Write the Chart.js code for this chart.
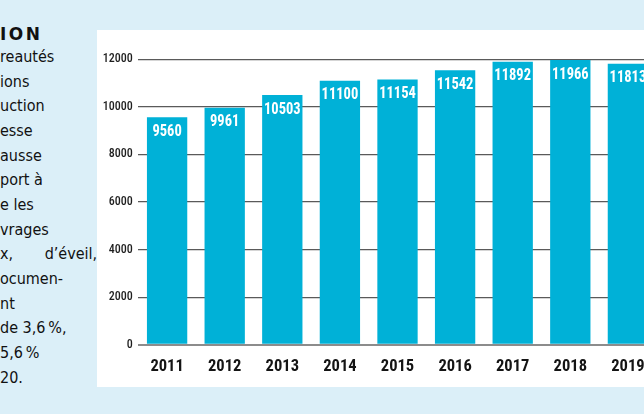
<!DOCTYPE html>
<html><head><meta charset="utf-8">
<script src="https://cdn.jsdelivr.net/npm/chart.js@4/dist/chart.umd.min.js"></script>
<style>
html,body{margin:0;padding:0}
body{width:644px;height:414px;overflow:hidden;background:#dbeff8;position:relative;color:#111}
#head{position:absolute;left:0;top:22px;font:bold 17px "DejaVu Sans",sans-serif;letter-spacing:2.5px;line-height:24px}
#txt{position:absolute;left:0;top:45px;font-family:"DejaVu Sans Condensed","DejaVu Sans",sans-serif;font-size:16px;line-height:24.65px}
#txt div{white-space:nowrap}
#panel{position:absolute;left:97px;top:30px;width:620px;height:357px;background:#fff}
#wrap{position:absolute;left:97px;top:30px;width:580px;height:357px}
</style></head>
<body>
<div id="head">ION</div>
<div id="txt">
<div>reautés</div>
<div>ions</div>
<div>uction</div>
<div>esse</div>
<div>ausse</div>
<div>port à</div>
<div>e les</div>
<div>vrages</div>
<div style="word-spacing:27px">x, d’éveil,</div>
<div>ocumen-</div>
<div>nt</div>
<div>de 3,6&#8239;%,</div>
<div>5,6&#8239;%</div>
<div>20.</div>
</div>
<div id="panel"></div>
<div id="wrap"><canvas id="c" width="580" height="357"></canvas></div>
<script>
const years = ['2011','2012','2013','2014','2015','2016','2017','2018','2019'];
const values = [9560, 9961, 10503, 11100, 11154, 11542, 11892, 11966, 11813];
const yTicks = [0, 2000, 4000, 6000, 8000, 10000, 12000];

const BAR = '#00b1d7';
const COND = 'Roboto,"DejaVu Sans Condensed",sans-serif';

const valueLabels = {
  id: 'valueLabels',
  afterDatasetsDraw(chart) {
    const ctx = chart.ctx;
    const meta = chart.getDatasetMeta(0);
    ctx.save();
    ctx.fillStyle = '#ffffff';
    ctx.font = 'condensed bold 16.5px ' + COND;
    try { ctx.fontStretch = 'condensed'; } catch (e) {}
    ctx.textAlign = 'center';
    ctx.textBaseline = 'middle';
    meta.data.forEach((bar, i) => {
      ctx.save();
      ctx.translate(bar.x, bar.y + 14.5);
      ctx.scale(0.88, 1);
      ctx.fillText(String(values[i]), 0, 0);
      ctx.restore();
    });
    ctx.restore();
  }
};

new Chart(document.getElementById('c'), {
  type: 'bar',
  data: {
    labels: years,
    datasets: [{
      data: values,
      backgroundColor: BAR,
      borderWidth: 0,
      barPercentage: 0.7,
      categoryPercentage: 1.0
    }]
  },
  options: {
    responsive: false,
    animation: false,
    events: [],
    layout: { padding: { left: 0, right: 20.3, top: 29.3, bottom: 0 } },
    plugins: { legend: { display: false }, tooltip: { enabled: false } },
    scales: {
      x: {
        grid: { display: false, drawTicks: false },
        border: { display: false },
        ticks: { color: '#141414', font: { family: COND, size: 16.5, weight: 'condensed bold' }, padding: 12.5, maxRotation: 0 },
        afterFit(scale) { scale.height = 42.3; }
      },
      y: {
        min: 0, max: 12000,
        afterBuildTicks(scale) { scale.ticks = yTicks.map(v => ({ value: v })); },
        grid: {
          drawTicks: false,
          color: ctx => ctx.tick && ctx.tick.value === 0 ? '#8c8c8c' : '#5a5a5a',
          lineWidth: ctx => ctx.tick && ctx.tick.value === 0 ? 2 : 1.2
        },
        border: { display: false },
        ticks: { color: '#1e1e1e', font: { family: COND, size: 12, weight: 'condensed 500' }, padding: 5.6, callback: v => String(v) },
        afterFit(scale) { scale.width = 41.3; }
      }
    }
  },
  plugins: [valueLabels]
});
</script>
</body></html>
